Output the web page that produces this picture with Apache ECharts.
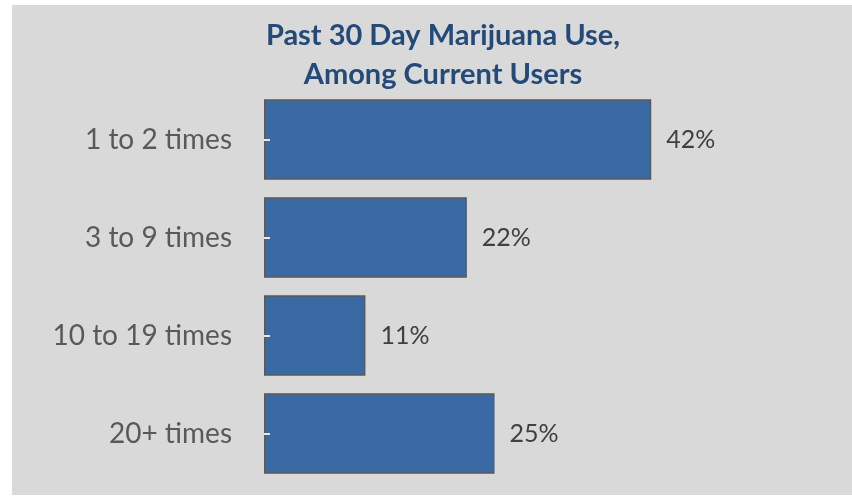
<!DOCTYPE html>
<html><head><meta charset="utf-8">
<script src="https://cdn.jsdelivr.net/npm/echarts@6/dist/echarts.min.js"></script>
<style>html,body{margin:0;padding:0;background:#fff}#c{width:852px;height:496px}</style>
</head><body><div id="c"></div>
<script>
const categories = ['1 to 2 times', '3 to 9 times', '10 to 19 times', '20+ times'];
const values = [42, 22, 11, 25];
const titleText = 'Past 30 Day Marijuana Use,\nAmong Current Users';

const chart = echarts.init(document.getElementById('c'));
chart.setOption({
  animation: false,
  graphic: [{ type: 'rect', shape: { x: 12, y: 5, width: 840, height: 490 }, style: { fill: '#d9d9d9' }, z: -10 }],
  title: {
    text: titleText, left: 438, top: 11, textAlign: 'center',
    textStyle: { fontFamily: 'Lato', fontWeight: 'bold', fontSize: 29, lineHeight: 39, color: '#244a78' }
  },
  grid: { left: 264, right: 127, top: 90.5, bottom: 13.5, containLabel: false },
  xAxis: { type: 'value', min: 0, max: 50, show: false },
  yAxis: {
    type: 'category', data: categories, inverse: true, z: 5,
    axisLine: { show: false },
    axisTick: { show: true, inside: true, length: 6, alignWithLabel: true, lineStyle: { color: '#e6e6e6', width: 2 } },
    axisLabel: { fontFamily: 'Lato', fontSize: 28, color: '#595959', margin: 32 }
  },
  series: [{
    type: 'bar', data: values, barCategoryGap: '18%',
    itemStyle: { color: '#3a6aa3', borderColor: '#595959', borderWidth: 1.5 },
    label: { show: true, position: 'right', distance: 15, formatter: '{c}%', fontFamily: 'Lato', fontSize: 25, color: '#404040' }
  }]
});
</script></body></html>
